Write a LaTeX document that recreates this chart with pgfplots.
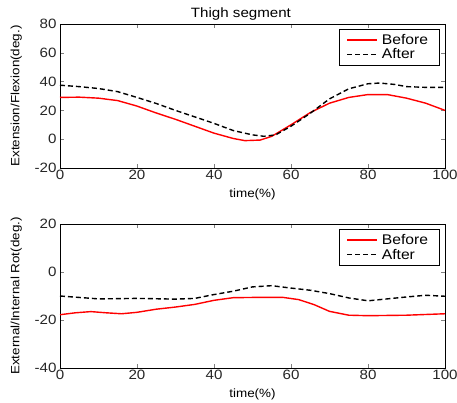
\documentclass[border=0pt]{standalone}
\usepackage{fontspec}
\setmainfont{Liberation Sans}[FakeStretch=1.12]
\usepackage{pgfplots}
\pgfplotsset{compat=1.18}

\pgfplotsset{
  matstyle/.style={
    scale only axis, width=385pt, height=144pt,
    xmin=0, xmax=100, xtick={0,20,...,100},
    tick align=inside, major tick length=4pt,
    xtick pos=both, ytick pos=both,
    tick label style={font=\fontsize{13.5}{13.5}\selectfont, color=black!85},
    xticklabel style={yshift=1pt},
    /pgf/number format/assume math mode=true,
    xlabel style={font=\fontsize{12}{12}\selectfont, yshift=-2pt},
    ylabel style={font=\fontsize{12}{12}\selectfont, yshift=6pt},
    legend style={at={(0.985,0.965)}, anchor=north east, draw=black,
      font=\fontsize{14}{14}\selectfont, inner xsep=7pt, inner ysep=3pt, row sep=-1pt,
      legend cell align=left,
      nodes={inner xsep=4pt}},
    legend image code/.code={\draw[#1] (0cm,0cm) -- (30pt,0cm);},
  },
  before/.style={red, line width=1.4pt},
  after/.style={black, line width=1.4pt, dash pattern=on 5pt off 3pt},
}

\begin{document}
\begin{tikzpicture}
\useasboundingbox (-60pt,-235pt) rectangle (397pt,168pt);

\begin{axis}[matstyle, at={(0,0)}, anchor=south west,
  ymin=-20, ymax=80, ytick={-20,0,...,80},
  title={Thigh segment}, title style={font=\fontsize{13.5}{13.5}\selectfont, at={(0.47,1)}, yshift=-6pt},
  xlabel={time(\%)}, ylabel={Extension/Flexion(deg.)}]
\addplot[before] coordinates {
(0,29) (5,29.2) (10,28.5) (15,26.8) (20,23) (25,18.2) (30,13.8) (35,9) (40,4.2)
(45,0.5) (48,-1) (52,-0.6) (55,2) (60,10) (65,18.5) (70,25) (75,29) (80,31)
(85,31) (90,28.5) (95,25) (100,20)};
\addplot[after] coordinates {
(0,37.5) (5,36.5) (10,35.2) (15,33) (20,29) (25,24.8) (30,20) (35,15.5) (40,11)
(45,6) (50,3) (53,2) (56,3) (60,9) (65,18) (70,28) (75,35) (80,38.5) (83,39)
(87,38) (90,36.5) (95,36) (100,36)};
\legend{Before, After}
\end{axis}

\begin{axis}[matstyle, at={(0,-200pt)}, anchor=south west,
  ymin=-40, ymax=20, ytick={-40,-20,0,20},
  xlabel={time(\%)}, ylabel={External/Internal Rot(deg.)}]
\addplot[before] coordinates {
(0,-17.8) (4,-17) (8,-16.5) (12,-17) (16,-17.4) (20,-16.8) (25,-15.5) (30,-14.6)
(35,-13.5) (40,-11.8) (45,-10.7) (50,-10.6) (58,-10.6) (62,-11.5) (66,-13.6)
(70,-16.4) (75,-18) (80,-18.2) (90,-18) (100,-17.4)};
\addplot[after] coordinates {
(0,-10) (5,-10.6) (10,-11.2) (20,-11) (30,-11.3) (35,-11) (40,-9.4) (45,-8)
(50,-6.2) (55,-5.7) (60,-6.7) (65,-7.6) (70,-9) (75,-10.8) (80,-12) (85,-11.2)
(90,-10.4) (95,-9.7) (100,-10.1)};
\legend{Before, After}
\end{axis}
\end{tikzpicture}
\end{document}
